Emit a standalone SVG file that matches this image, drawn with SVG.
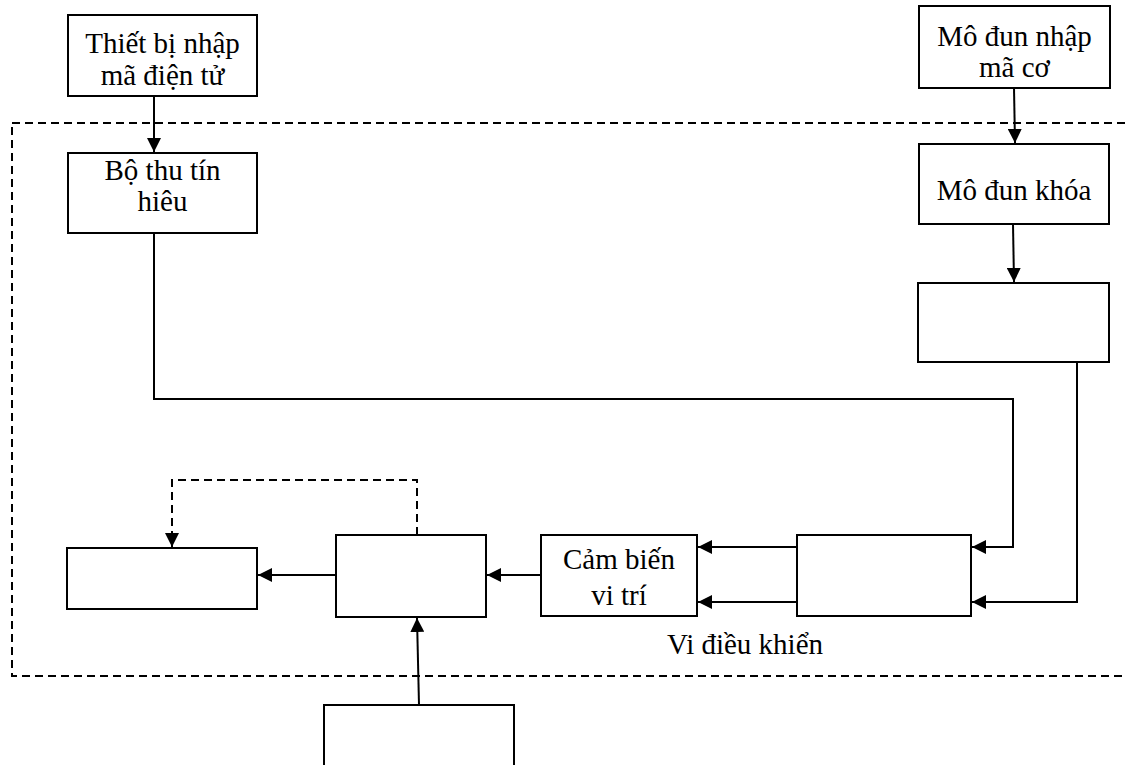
<svg xmlns="http://www.w3.org/2000/svg" width="1127" height="765" viewBox="0 0 1127 765">
<style>
.box{fill:#fff;stroke:#000;stroke-width:2}
.ln{fill:none;stroke:#000;stroke-width:2}
.dash{fill:none;stroke:#000;stroke-width:2;stroke-dasharray:8,5}
text{font-family:"Liberation Serif","Times New Roman",serif;font-size:29px;fill:#000;text-anchor:middle}
</style>
<defs>
<marker id="ah" viewBox="0 0 14 14" refX="14" refY="7" markerWidth="14" markerHeight="14" markerUnits="userSpaceOnUse" orient="auto">
<path d="M0,0 L14,7 L0,14 Z" fill="#000"/>
</marker>
</defs>
<rect id="frame" x="12" y="123" width="1130" height="553" class="dash"/>
<g id="connectors">
<line x1="154" y1="96" x2="154" y2="152" class="ln" marker-end="url(#ah)"/>
<line x1="1014" y1="88" x2="1015" y2="143" class="ln" marker-end="url(#ah)"/>
<line x1="1013" y1="224" x2="1014" y2="282" class="ln" marker-end="url(#ah)"/>
<polyline points="154,233 154,399 1013,399 1013,547 972,547" class="ln" marker-end="url(#ah)"/>
<polyline points="1077,362 1077,602 972,602" class="ln" marker-end="url(#ah)"/>
<line x1="797" y1="547" x2="698" y2="547" class="ln" marker-end="url(#ah)"/>
<line x1="797" y1="602" x2="698" y2="602" class="ln" marker-end="url(#ah)"/>
<line x1="540" y1="575" x2="487" y2="575" class="ln" marker-end="url(#ah)"/>
<line x1="336" y1="575" x2="258" y2="575" class="ln" marker-end="url(#ah)"/>
<polyline points="417,535 417,480 172,480 172,547" class="dash" marker-end="url(#ah)"/>
<line x1="419" y1="705" x2="417" y2="618" class="ln" marker-end="url(#ah)"/>
</g>
<g id="n1"><rect x="68" y="15" width="189" height="81" class="box"/><text x="162.5" y="53">Thiết bị nhập</text><text x="162.5" y="85">mã điện tử</text></g>
<g id="n2"><rect x="919" y="6" width="191" height="82" class="box"/><text x="1014.5" y="46">Mô đun nhập</text><text x="1014.5" y="77">mã cơ</text></g>
<g id="n3"><rect x="68" y="153" width="189" height="80" class="box"/><text x="162.5" y="180">Bộ thu tín</text><text x="162.5" y="211">hiêu</text></g>
<g id="n4"><rect x="919" y="144" width="190" height="80" class="box"/><text x="1014" y="200">Mô đun khóa</text></g>
<g id="n5"><rect x="918" y="283" width="191" height="79" class="box"/></g>
<g id="n6"><rect x="797" y="535" width="174" height="81" class="box"/></g>
<g id="n7"><rect x="541" y="535" width="156" height="81" class="box"/><text x="619" y="569">Cảm biến</text><text x="619" y="605">vi trí</text></g>
<g id="n8"><rect x="336" y="535" width="150" height="82" class="box"/></g>
<g id="n9"><rect x="67" y="548" width="190" height="61" class="box"/></g>
<g id="n10"><rect x="324" y="705" width="190" height="80" class="box"/></g>
<text id="label" x="745" y="654">Vi điều khiển</text>
</svg>
